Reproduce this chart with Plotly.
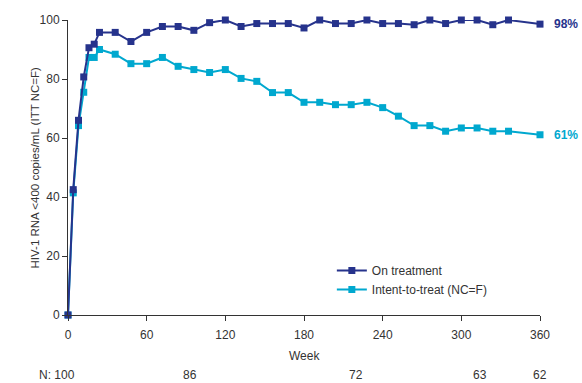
import plotly.graph_objects as go

weeks = [0, 4, 8, 12, 16, 20, 24, 36, 48, 60, 72, 84, 96, 108, 120, 132, 144, 156, 168,
         180, 192, 204, 216, 228, 240, 252, 264, 276, 288, 300, 312, 324, 336, 360]
on_treatment = [0, 42.5, 66, 80.7, 90.6, 91.8, 95.8, 95.8, 92.7, 95.8, 97.8, 97.8, 96.5, 99.1, 100,
                97.8, 98.8, 98.8, 98.8, 97.3, 100, 98.8, 98.8, 100, 98.8, 98.8, 98.4, 100,
                98.8, 100, 100, 98.4, 100, 98.6]
itt = [0, 41.4, 64.2, 75.5, 87.3, 87.3, 90, 88.4, 85.2, 85.2, 87.3, 84.3, 83.2, 82.2, 83.2,
       80.2, 79.2, 75.4, 75.4, 72.1, 72.1, 71.3, 71.3, 72.1, 70.3, 67.4, 64.2, 64.2, 62.3,
       63.4, 63.4, 62.3, 62.3, 61.1]
x_ticks = [0, 60, 120, 180, 240, 300, 360]
y_ticks = [0, 20, 40, 60, 80, 100]
n_weeks = [93, 220, 314, 360]
n_labels = ["86", "72", "63", "62"]
end_labels = ["98%", "61%"]
series_names = ["On treatment", "Intent-to-treat (NC=F)"]

DARK = "#26338C"
CYAN = "#00A8CF"
FONT = "Liberation Sans, Arial, sans-serif"
TXT = "#333333"

fig = go.Figure()
fig.add_trace(go.Scatter(x=weeks, y=itt, mode="lines+markers", name=series_names[1],
                         line=dict(color=CYAN, width=2),
                         marker=dict(symbol="square", size=7, color=CYAN),
                         cliponaxis=False))
fig.add_trace(go.Scatter(x=weeks, y=on_treatment, mode="lines+markers", name=series_names[0],
                         line=dict(color=DARK, width=2),
                         marker=dict(symbol="square", size=7, color=DARK),
                         cliponaxis=False))

fig.add_annotation(x=weeks[-1], y=on_treatment[-1], text="<b>" + end_labels[0] + "</b>",
                   showarrow=False, xanchor="left", xshift=12,
                   font=dict(family=FONT, size=12, color=DARK))
fig.add_annotation(x=weeks[-1], y=itt[-1], text="<b>" + end_labels[1] + "</b>",
                   showarrow=False, xanchor="left", xshift=12,
                   font=dict(family=FONT, size=12, color=CYAN))

# y title
fig.add_annotation(xref="paper", yref="paper", x=-0.07, y=0.5, textangle=-90,
                   xanchor="center", yanchor="middle",
                   text="HIV-1 RNA <400 copies/mL (ITT NC=F)", showarrow=False,
                   font=dict(family=FONT, size=11.5, color=TXT))
# x title
fig.add_annotation(xref="paper", yref="paper", x=0.5, y=-0.139, yanchor="middle",
                   text="Week", showarrow=False,
                   font=dict(family=FONT, size=12, color=TXT))
# N row
N_Y = -0.2034
fig.add_annotation(xref="x", yref="paper", x=6, y=N_Y, yanchor="middle", xanchor="right",
                   text="N: 100", showarrow=False, borderpad=0,
                   font=dict(family=FONT, size=12, color=TXT))
for w, t in zip(n_weeks, n_labels):
    fig.add_annotation(xref="x", yref="paper", x=w, y=N_Y, yanchor="middle",
                       xanchor="center", borderpad=0,
                       text=t, showarrow=False,
                       font=dict(family=FONT, size=12, color=TXT))

fig.update_layout(
    width=582, height=383,
    margin=dict(l=68, r=42, t=20, b=68),
    paper_bgcolor="white", plot_bgcolor="white",
    font=dict(family=FONT, size=12, color=TXT),
    showlegend=True,
    legend=dict(x=0.559, y=0.20, xanchor="left", yanchor="top", traceorder="reversed",
                bgcolor="rgba(0,0,0,0)", font=dict(family=FONT, size=12, color=TXT),
                tracegroupgap=0),
    xaxis=dict(range=[0, 360], tickvals=x_ticks, showgrid=False, zeroline=False,
               showline=True, linecolor="#333333", linewidth=1,
               ticks="outside", ticklen=5, tickcolor="#333333",
               ticklabelstandoff=4,
               tickfont=dict(family=FONT, size=12, color=TXT)),
    yaxis=dict(range=[0, 100], tickvals=y_ticks, showgrid=False, zeroline=False,
               showline=True, linecolor="#333333", linewidth=1,
               ticks="outside", ticklen=5, tickcolor="#333333",
               tickfont=dict(family=FONT, size=12, color=TXT)),
)

fig.write_html("out.html", config={"displayModeBar": False},
               post_script="document.body.style.margin='0';document.body.style.overflow='hidden';")
